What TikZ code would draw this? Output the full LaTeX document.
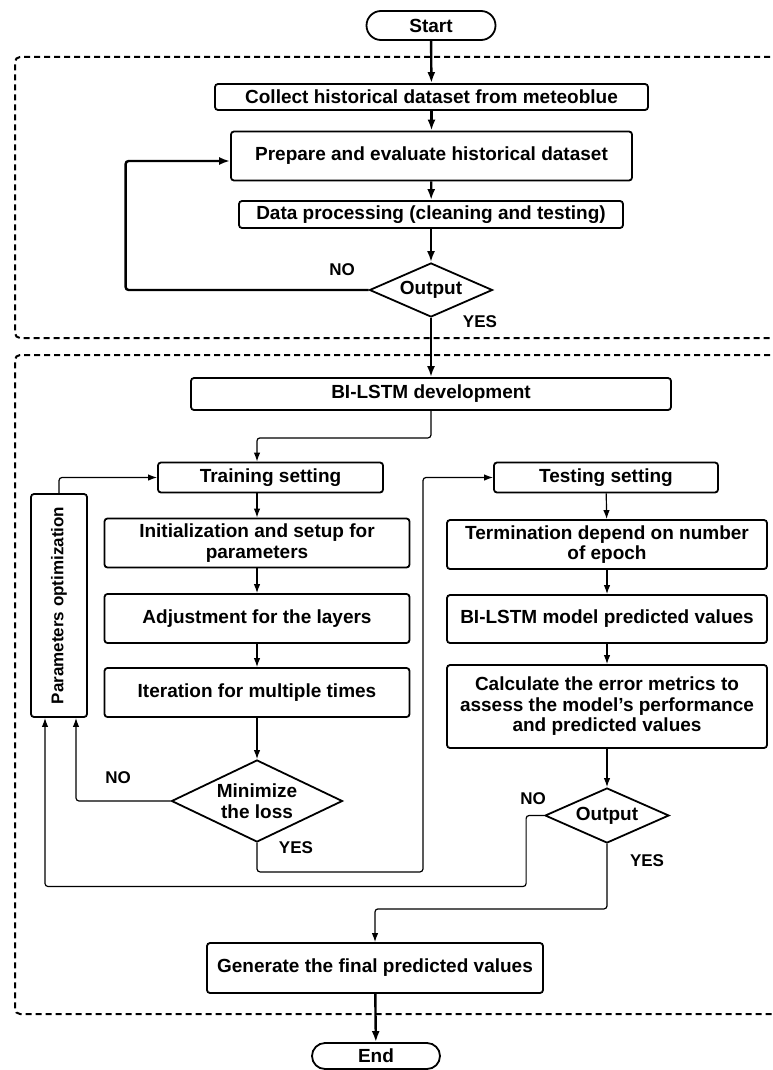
\documentclass[tikz,border=0pt]{standalone}
\usepackage{fontspec}
\setmainfont{Liberation Sans}
\usetikzlibrary{shapes,shapes.geometric,shapes.misc,arrows.meta,positioning,calc}

\begin{document}
\begin{tikzpicture}[
    x=1pt,y=-1pt,
    every node/.style = {font=\fontsize{19}{20.5}\selectfont\bfseries},
    term/.style    = {rounded rectangle, draw, line width=1.8pt, inner sep=0pt},
    boite/.style   = {rectangle, draw, line width=1.8pt, rounded corners=3pt,
                      align=center, inner sep=2pt},
    losange/.style = {diamond, draw, line width=1.8pt, align=center, inner sep=0pt},
    fleche/.style  = {-{Latex[length=11pt,width=8pt]}, line width=2.4pt,
                      rounded corners=3pt},
    fin/.style     = {-{Latex[length=9pt,width=6.5pt]}, line width=1.2pt,
                      rounded corners=3pt},
    cadre/.style   = {line width=2pt, dash pattern=on 6pt off 4pt, rounded corners=5pt},
    rep/.style     = {font=\fontsize{17}{17}\selectfont\bfseries},
  ]

  \useasboundingbox (0,0) rectangle (772,1070);

  \draw[cadre] (790,57) -- (15,57) -- (15,338) -- (790,338);
  \draw[cadre] (790,355) -- (15,355) -- (15,1014) -- (790,1014);

  \node[term, minimum width=129, minimum height=29] (start) at (431,25.5) {Start};

  \node[boite, minimum width=433, minimum height=26] (coll) at (431.5,97)
       {Collect historical dataset from meteoblue};
  \node[boite, minimum width=401, minimum height=49] (prep) at (431.5,156)
       {Prepare and evaluate historical dataset};
  \node[boite, minimum width=384, minimum height=27] (proc) at (431,214.5)
       {Data processing (cleaning and testing)};
  \node[losange, aspect=2.3, minimum width=123, minimum height=54] (outA) at (431,290)
       {Output};

  \node[rep] (noA)  at (342,270) {NO};
  \node[rep] (yesA) at (480,322) {YES};

  \node[boite, minimum width=480, minimum height=32] (bil) at (431,394)
       {BI-LSTM development};

  \node[boite, minimum width=225, minimum height=30] (train) at (270.5,477.5)
       {Training setting};
  \node[boite, minimum width=224, minimum height=30] (test) at (606,477.5)
       {Testing setting};

  \node[boite, minimum width=305, minimum height=49] (init) at (257,543)
       {Initialization and setup for\\parameters};
  \node[boite, minimum width=305, minimum height=49] (adj) at (257,618.5)
       {Adjustment for the layers};
  \node[boite, minimum width=305, minimum height=49] (iter) at (257,692.5)
       {Iteration for multiple times};
  \node[losange, aspect=2.1, minimum width=171, minimum height=82] (mini) at (257,801)
       {Minimize\\the loss};

  \node[boite, minimum width=56, minimum height=223] (param) at (59,605.5)
       {\rotatebox{90}{\fontsize{17}{17}\selectfont Parameters optimization}};

  \node[boite, minimum width=320, minimum height=49] (term) at (607,544.5)
       {Termination depend on number\\of epoch};
  \node[boite, minimum width=320, minimum height=48] (bmod) at (607,619)
       {BI-LSTM model predicted values};
  \node[boite, minimum width=320, minimum height=83] (calc) at (607,706.5)
       {Calculate the error metrics to\\assess the model's performance\\and predicted values};
  \node[losange, aspect=2.3, minimum width=124, minimum height=55] (outB) at (607,815.5)
       {Output};

  \node[rep] (noB)  at (118,778) {NO};
  \node[rep] (yesB) at (296,848) {YES};
  \node[rep] (noC)  at (533,799) {NO};
  \node[rep] (yesC) at (647,861) {YES};

  \node[boite, minimum width=336, minimum height=50] (gen) at (375,968)
       {Generate the final predicted values};

  \node[term, minimum width=128, minimum height=26] (end) at (376,1056) {End};

  \draw[fleche] (start) -- (coll);
  \draw[fleche] (coll) -- (prep);
  \draw[fleche] (prep) -- (proc);
  \draw[fleche] (proc) -- (outA);
  \draw[fleche] (outA.west) -- ++(-243,0) |- ([yshift=-5pt]prep.west);
  \draw[fleche] (outA) -- (bil);

  \draw[fin] (bil.south) -- ++(0,27) -| (train.north -| init.north);
  \draw[fin] (train.south -| init.north) -- (init);
  \draw[fin] (init) -- (adj);
  \draw[fin] (adj) -- (iter);
  \draw[fin] (iter) -- (mini);
  \draw[fin] (mini.west) -| ([xshift=17pt]param.south);
  \draw[fin] (param.north) |- (train.west);
  \draw[fin] (mini.south) -- ++(0,29) -- ++(166,0) |- (test.west);

  \draw[fin] (test) -- (term);
  \draw[fin] (term) -- (bmod);
  \draw[fin] (bmod) -- (calc);
  \draw[fin] (calc) -- (outB);
  \draw[fin] (outB.west) -- ++(-18,0) -- ++(0,71) -| ([xshift=-14pt]param.south);
  \draw[fin] (outB.south) -- ++(0,65) -| (gen.north);

  \draw[fleche] (gen) -- (end);

\end{tikzpicture}
\end{document}
